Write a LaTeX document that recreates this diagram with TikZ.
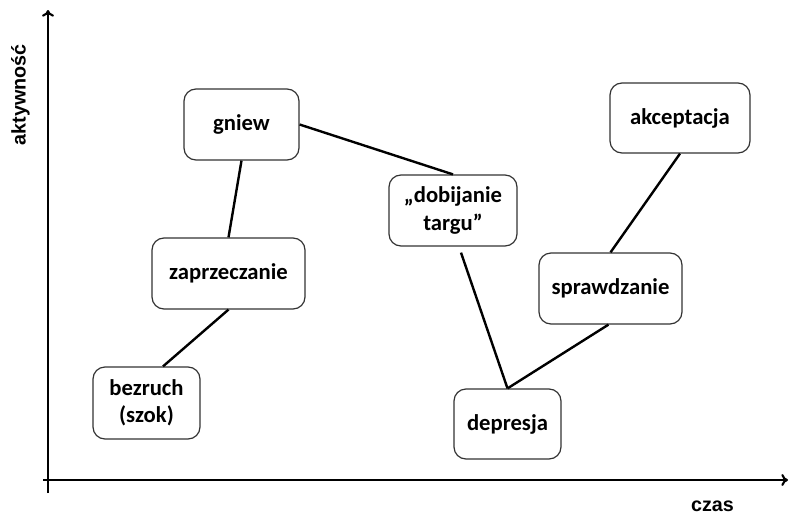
\documentclass[tikz,border=0pt]{standalone}
\usepackage{fontspec}
\setmainfont{Carlito}
\newfontfamily\axisfont{Liberation Sans}
\usetikzlibrary{arrows.meta,calc}
\begin{document}
\begin{tikzpicture}[x=0.75pt,y=-0.75pt,
  box/.style={draw=black!80, line width=0.9pt, rounded corners=9pt, fill=white,
    align=center, inner sep=0pt, font=\fontsize{17}{20.5}\selectfont\bfseries},
  link/.style={line width=1.8pt},
  axis/.style={line width=1.6pt, -{To[length=5pt,width=9pt]}},
  axlabel/.style={inner sep=0pt, font=\axisfont\bfseries\fontsize{14.8}{17}\selectfont}]
\useasboundingbox (0,0) rectangle (789,514);

% axes
\coordinate (ybot) at (48,493);
\coordinate (ytop) at (48,10);
\coordinate (xleft) at (43,480);
\coordinate (xright) at (788,480);
\draw[axis] (ybot) -- (ytop);
\draw[axis] (xleft) -- (xright);
\node[axlabel, rotate=90, anchor=base] (ylab) at (25.5,95) {aktywność};
\node[axlabel, anchor=base] (xlab) at (712.5,511) {czas};

% boxes
\node[box, minimum width=86.25pt, minimum height=53.25pt] (gniew) at (241.5,124.5) {gniew};
\node[box, minimum width=114.75pt, minimum height=53.25pt] (zap) at (228.5,273.5) {zaprzeczanie};
\node[box, minimum width=80.25pt, minimum height=54pt] (bez) at (146.5,403) {bezruch\\(szok)};
\node[box, minimum width=96pt, minimum height=53.25pt] (dob) at (453,210.5) {„dobijanie\\targu”};
\node[box, minimum width=80.25pt, minimum height=52.5pt] (dep) at (507.5,424) {depresja};
\node[box, minimum width=107.25pt, minimum height=53.25pt] (spr) at (610.5,288.5) {sprawdzanie};
\node[box, minimum width=105pt, minimum height=52.5pt] (akc) at (680,118) {akceptacja};

% connectors
\draw[link] ($(bez.north)+(16.5,0)$) -- (zap.south);
\draw[link] (zap.north) -- (gniew.south);
\draw[link] (gniew.east) -- (dob.north);
\draw[link] ($(dob.south)+(8,6)$) -- (dep.north);
\draw[link] (dep.north) -- ($(spr.south)+(-2,0)$);
\draw[link] (spr.north) -- (akc.south);
\end{tikzpicture}
\end{document}
